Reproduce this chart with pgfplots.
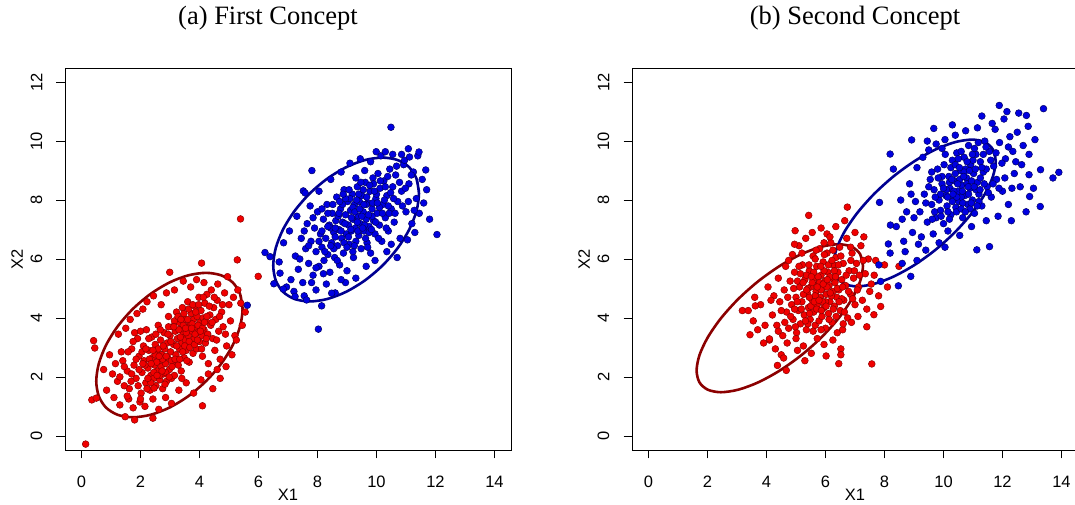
\documentclass[border=0pt]{standalone}
\usepackage{pgfplots}
\pgfplotsset{compat=1.18}
\usepackage{fontspec}
\setmainfont{Liberation Serif}
\newfontfamily\helv{Liberation Sans}
\definecolor{ptred}{RGB}{240,0,0}
\definecolor{ptredb}{RGB}{140,0,0}
\definecolor{ptblue}{RGB}{0,0,225}
\definecolor{ptblueb}{RGB}{0,0,100}
\definecolor{elred}{RGB}{139,0,0}
\definecolor{elblue}{RGB}{0,0,145}
\pgfplotsset{
  rpanel/.style={
    scale only axis, width=446pt, height=382pt, anchor=south west,
    xmin=-0.56, xmax=14.56, ymin=-0.48, ymax=12.48,
    xtick={0,2,...,14}, ytick={0,2,...,12},
    tick align=outside, major tick length=8.5pt,
    tick style={black, line width=0.6pt},
    axis line style={line width=0.8pt},
    xtick pos=left, ytick pos=left,
    /pgf/number format/assume math mode=true,
    tick label style={font=\helv\fontsize{16.5}{19}\selectfont},
    xticklabel style={anchor=center, yshift=-23pt},
    yticklabel style={rotate=90, anchor=center, yshift=20pt},
    label style={font=\helv\fontsize{16.5}{19}\selectfont},
    xlabel={X1}, ylabel={X2},
    xlabel style={at={(axis description cs:0.5,0)}, anchor=center, yshift=-45pt},
    ylabel style={at={(axis description cs:0,0.5)}, anchor=center, yshift=48pt},
  },
  redpts/.style={only marks, mark=*, mark size=3.4pt, mark options={fill=ptred, draw=ptredb, line width=0.5pt}},
  bluepts/.style={only marks, mark=*, mark size=3.4pt, mark options={fill=ptblue, draw=ptblueb, line width=0.5pt}},
  redell/.style={elred, line width=2.6pt, smooth, no marks},
  blueell/.style={elblue, line width=2.6pt, smooth, no marks},
}
\begin{document}
\begin{tikzpicture}
% ---------------- (a) First Concept ----------------
\begin{axis}[rpanel, at={(65pt,55pt)}]
\addplot[redpts] coordinates {
(1.05,2.10) (1.22,1.85) (1.40,2.55) (1.55,2.20) (1.62,1.60) (1.70,2.95) (1.78,2.40) (1.85,1.95) (1.90,3.30) (1.95,2.70)
(2.02,1.45) (2.05,2.15) (2.10,3.05) (2.12,2.55) (2.18,1.80) (2.20,3.60) (2.25,2.30) (2.28,2.90) (2.32,1.55) (2.35,2.05)
(2.38,3.35) (2.40,2.65) (2.45,1.95) (2.48,2.40) (2.50,3.10) (2.52,1.70) (2.55,2.85) (2.58,2.20) (2.60,3.75) (2.62,2.55)
(2.65,1.90) (2.68,3.25) (2.70,2.35) (2.72,2.75) (2.75,1.60) (2.78,2.10) (2.80,3.50) (2.82,2.95) (2.85,2.45) (2.88,1.85)
(2.90,3.15) (2.92,2.65) (2.95,4.05) (2.98,2.25) (3.00,3.40) (3.02,2.85) (3.05,1.95) (3.08,3.70) (3.10,2.50) (3.12,3.10)
(3.15,2.05) (3.18,3.55) (3.20,2.75) (3.22,4.20) (3.25,3.30) (3.28,2.40) (3.30,3.85) (3.32,2.95) (3.35,3.60) (3.38,2.20)
(3.40,3.15) (3.42,4.35) (3.45,3.45) (3.48,2.65) (3.50,3.95) (3.52,3.25) (3.55,2.90) (3.58,3.70) (3.60,4.55) (3.62,3.40)
(3.65,2.50) (3.68,3.85) (3.70,3.10) (3.72,4.15) (3.75,3.55) (3.78,2.80) (3.80,3.95) (3.82,3.30) (3.85,4.40) (3.88,3.70)
(3.90,2.95) (3.92,4.05) (3.95,3.50) (3.98,4.70) (4.00,3.20) (4.02,3.85) (4.05,4.25) (4.08,3.40) (4.10,2.70) (4.12,4.00)
(4.15,3.60) (4.18,4.50) (4.20,3.15) (4.22,3.90) (4.25,4.80) (4.28,3.45) (4.30,2.45) (4.35,4.10) (4.38,3.75) (4.40,4.95)
(4.45,3.30) (4.48,4.35) (4.52,2.90) (4.55,3.95) (4.60,4.60) (4.65,3.55) (4.70,2.60) (4.75,4.20) (4.80,3.70) (4.85,4.85)
(4.92,3.05) (5.00,4.45) (5.05,3.90) (5.15,4.70) (5.20,3.40) (5.30,4.95) (5.40,4.50)
(0.75,2.25) (0.85,1.55) (0.95,2.75) (1.10,1.30) (1.15,2.45) (1.25,3.45) (1.30,1.05) (1.35,2.85) (1.45,1.70) (1.50,3.65)
(1.60,1.25) (1.65,3.95) (1.75,0.95) (1.80,3.50) (1.88,4.15) (1.98,1.15) (2.08,4.30) (2.15,1.00) (2.22,4.55) (2.42,1.25)
(2.44,4.75) (2.62,0.90) (2.70,4.45) (2.85,1.30) (2.88,4.85) (3.05,1.10) (3.15,4.95) (3.30,1.55) (3.45,5.25) (3.55,1.80)
(3.70,5.05) (3.80,1.45) (3.90,5.30) (4.05,1.90) (4.15,5.20) (4.30,2.10) (4.45,1.60) (4.62,5.15) (4.70,1.95) (4.90,2.35)
(5.10,2.75) (5.25,3.25) (5.45,3.75) (5.55,4.20) (4.95,5.40)
(0.14,-0.28) (0.41,3.23) (0.45,2.98) (0.35,1.22) (0.50,1.28) (1.48,0.65) (1.80,0.54) (2.42,0.60) (4.10,1.02) (2.99,5.55)
(4.07,5.86) (5.28,5.97) (5.99,5.41) (5.39,7.36)
(2.30,2.60) (2.45,2.15) (2.55,2.50) (2.65,2.05) (2.75,2.60) (2.35,1.80) (2.15,2.40) (2.05,2.85) (1.95,2.25) (2.60,2.95)
(3.35,3.35) (3.45,3.75) (3.55,3.50) (3.65,3.20) (3.75,3.80) (3.85,3.45) (3.60,3.95) (3.30,3.60) (3.95,3.75) (3.50,3.05)
(1.85,2.60) (1.70,2.10) (2.95,3.70) (3.15,3.90) (4.10,3.65) (4.25,4.05) (3.05,2.55) (2.85,2.15) (2.50,2.75) (2.25,1.95)
(1.30,2.00) (1.45,2.35) (1.58,2.85) (1.68,1.85) (1.75,3.20) (1.92,1.70) (2.00,3.55) (2.08,2.45) (2.18,2.95) (2.22,1.60)
(2.28,3.30) (2.36,2.45) (2.42,2.90) (2.46,1.62) (2.52,3.45) (2.56,2.05) (2.63,2.70) (2.67,3.60) (2.73,2.20) (2.77,3.05)
(2.83,1.75) (2.87,2.70) (2.93,3.45) (2.97,2.00) (3.03,3.20) (3.07,2.35) (3.13,3.70) (3.17,2.60) (3.23,3.05) (3.27,4.05)
(3.33,2.60) (3.37,3.95) (3.43,2.85) (3.47,4.15) (3.53,3.65) (3.57,2.55) (3.63,4.30) (3.67,3.00) (3.73,3.65) (3.77,4.45)
(3.83,3.10) (3.87,4.20) (3.93,3.25) (3.97,4.45) (4.03,3.55) (4.07,2.95) (4.13,4.70) (4.17,3.85) (4.23,3.30) (4.33,4.40)
(4.43,3.85) (4.50,4.70) (4.58,3.25) (4.68,4.05) (4.78,4.45) (4.88,3.45) (1.55,1.35) (2.00,1.25) (3.40,1.95) (4.60,2.25)
};
\addplot[bluepts] coordinates {
(7.10,5.30) (7.25,6.10) (7.35,5.65) (7.45,6.70) (7.50,5.20) (7.60,6.35) (7.65,7.20) (7.70,5.85) (7.78,6.60) (7.85,5.45)
(7.90,7.05) (7.95,6.25) (8.00,7.60) (8.05,5.75) (8.10,6.85) (8.15,6.40) (8.20,7.35) (8.22,5.95) (8.28,6.70) (8.32,7.85)
(8.35,6.15) (8.40,7.15) (8.42,5.55) (8.48,6.55) (8.50,7.55) (8.55,6.90) (8.58,6.05) (8.62,7.30) (8.65,8.10) (8.68,6.45)
(8.72,7.00) (8.75,5.80) (8.78,7.70) (8.82,6.70) (8.85,7.25) (8.88,6.20) (8.90,8.35) (8.95,7.50) (8.98,6.85) (9.00,5.60)
(9.02,7.95) (9.05,7.15) (9.08,6.50) (9.12,7.65) (9.15,6.95) (9.18,8.20) (9.20,7.35) (9.22,6.05) (9.25,7.85) (9.28,7.05)
(9.30,6.60) (9.35,8.45) (9.38,7.45) (9.40,6.80) (9.42,7.95) (9.45,7.20) (9.48,6.35) (9.50,8.15) (9.55,7.60) (9.58,6.95)
(9.62,8.60) (9.65,7.35) (9.68,6.55) (9.70,7.90) (9.75,7.10) (9.78,8.30) (9.80,6.20) (9.85,7.70) (9.88,8.75) (9.90,7.30)
(9.95,6.85) (9.98,8.05) (10.02,7.55) (10.05,8.90) (10.10,7.15) (10.12,8.40) (10.18,6.60) (10.22,7.85) (10.25,8.65) (10.30,7.40)
(10.35,8.15) (10.40,6.95) (10.45,9.05) (10.50,7.70) (10.55,8.45) (10.60,7.25) (10.65,8.85) (10.72,7.95) (10.80,6.70) (10.85,8.30)
(10.92,9.20) (11.00,7.60) (11.10,8.55) (11.20,7.20) (11.25,8.95) (11.35,8.05) (11.45,7.55) (11.55,8.70)
(6.70,5.90) (6.85,6.55) (6.95,5.05) (7.05,6.95) (7.20,4.90) (7.30,7.45) (7.55,4.75) (7.75,7.80) (7.95,4.95) (8.05,8.30)
(8.30,5.15) (8.45,8.70) (8.60,4.85) (8.80,8.95) (8.95,5.20) (9.10,9.25) (9.30,5.35) (9.45,9.40) (9.65,5.75) (9.80,9.30)
(9.95,5.95) (10.15,9.50) (10.35,6.25) (10.55,9.55) (10.70,6.05) (10.95,9.35) (11.05,6.65) (11.30,6.90) (11.40,9.50) (11.60,7.90)
(11.70,8.35) (11.80,7.35)
(10.49,10.47) (9.99,9.64) (10.30,9.64) (11.08,9.74) (11.44,9.63) (11.12,9.46) (11.67,9.02) (12.05,6.83) (7.81,9.00) (7.52,8.31)
(7.58,8.24) (6.22,6.22) (6.39,6.08) (6.52,5.16) (6.73,5.52) (6.84,4.98) (7.24,4.73) (8.14,4.41) (8.03,3.62) (7.63,4.61)
(8.48,4.84) (5.62,4.43)
(8.70,7.45) (8.85,7.85) (9.05,6.75) (9.20,7.75) (9.35,7.25) (9.50,7.45) (9.65,7.85) (9.75,6.90) (8.90,6.55) (9.10,8.05)
(9.40,8.20) (8.60,6.75) (8.45,7.05) (9.25,6.45) (9.60,7.15) (9.85,7.45) (10.00,8.20) (8.75,7.95) (9.15,7.40) (9.55,8.35)
(8.35,7.55) (10.10,7.75) (8.55,6.35) (9.90,8.55) (10.30,8.45) (8.15,6.95) (9.70,6.40) (10.40,7.80) (8.95,8.05) (9.30,8.75)
(7.40,6.00) (7.55,6.95) (7.70,6.45) (7.85,7.40) (7.95,5.70) (8.05,6.60) (8.15,7.70) (8.25,6.25) (8.35,7.10) (8.45,6.45)
(8.52,7.85) (8.60,7.05) (8.67,5.95) (8.73,7.55) (8.80,6.95) (8.87,8.20) (8.93,7.20) (9.00,6.40) (9.07,8.35) (9.13,7.00)
(9.20,6.25) (9.27,7.60) (9.33,8.00) (9.37,6.95) (9.43,7.70) (9.47,8.60) (9.53,7.05) (9.57,7.85) (9.63,6.70) (9.67,8.10)
(9.73,7.50) (9.77,8.50) (9.83,7.00) (9.87,7.90) (9.93,8.30) (9.97,7.25) (10.03,7.90) (10.07,6.70) (10.13,8.65) (10.20,7.55)
(10.27,8.00) (10.33,7.05) (10.38,8.80) (10.43,7.55) (10.48,8.25) (10.58,8.05) (10.63,7.55) (10.68,9.15) (10.78,8.60) (10.88,7.80)
(10.98,8.40) (11.08,7.95) (11.18,8.85) (11.28,7.65) (8.20,5.50) (8.80,5.30) (7.80,5.20) (10.50,6.50) (9.60,9.00) (10.85,9.55)
};
\addplot[redell] coordinates {
(5.460,4.305) (5.375,4.812) (5.128,5.202) (4.734,5.446) (4.220,5.530) (3.622,5.446) (2.980,5.202) (2.338,4.812)
(1.740,4.305) (1.226,3.714) (0.832,3.080) (0.585,2.446) (0.500,1.855) (0.585,1.348) (0.832,0.958) (1.226,0.714)
(1.740,0.630) (2.338,0.714) (2.980,0.958) (3.622,1.348) (4.220,1.855) (4.734,2.446) (5.128,3.080) (5.375,3.714)
(5.460,4.305) (5.375,4.812)
};
\addplot[blueell] coordinates {
(11.440,8.220) (11.356,8.725) (11.109,9.113) (10.717,9.357) (10.205,9.440) (9.609,9.357) (8.970,9.113) (8.331,8.725)
(7.735,8.220) (7.223,7.631) (6.831,7.000) (6.584,6.369) (6.500,5.780) (6.584,5.275) (6.831,4.887) (7.223,4.643)
(7.735,4.560) (8.331,4.643) (8.970,4.887) (9.609,5.275) (10.205,5.780) (10.717,6.369) (11.109,7.000) (11.356,7.631)
(11.440,8.220) (11.356,8.725)
};
\end{axis}
% ---------------- (b) Second Concept ----------------
\begin{axis}[rpanel, at={(632pt,55pt)}]
\addplot[redpts] coordinates {
(4.20,4.10) (4.35,3.75) (4.45,4.55) (4.55,3.40) (4.60,4.95) (4.68,4.20) (4.75,3.65) (4.80,5.25) (4.85,4.45) (4.90,3.95)
(4.95,5.55) (5.00,4.70) (5.02,3.50) (5.08,4.25) (5.12,5.05) (5.15,3.80) (5.20,4.55) (5.22,5.80) (5.28,4.10) (5.30,5.30)
(5.35,3.60) (5.38,4.85) (5.42,4.35) (5.45,5.60) (5.48,3.95) (5.50,5.05) (5.55,4.60) (5.58,6.10) (5.60,4.20) (5.62,5.35)
(5.65,3.75) (5.68,4.90) (5.70,5.75) (5.72,4.45) (5.75,5.15) (5.78,3.90) (5.80,6.35) (5.82,4.70) (5.85,5.45) (5.88,4.05)
(5.90,5.00) (5.92,5.90) (5.95,4.35) (5.98,5.25) (6.00,3.65) (6.02,4.80) (6.05,6.20) (6.08,5.55) (6.10,4.15) (6.12,5.10)
(6.15,4.55) (6.18,6.55) (6.20,5.35) (6.22,3.85) (6.25,4.90) (6.28,5.80) (6.30,4.40) (6.32,5.20) (6.35,6.05) (6.38,4.70)
(6.40,3.50) (6.42,5.55) (6.45,4.95) (6.48,6.40) (6.50,4.25) (6.55,5.30) (6.60,5.85) (6.62,4.60) (6.68,5.10) (6.72,6.70)
(6.75,4.00) (6.80,5.60) (6.85,4.80) (6.90,6.20) (6.95,5.35) (7.00,4.45) (7.05,5.85) (7.12,5.05) (7.20,6.45) (7.25,4.60)
(7.35,5.50) (7.45,6.00) (7.55,5.15)
(3.80,4.45) (3.95,3.75) (4.05,5.05) (4.10,3.25) (4.25,4.75) (4.30,2.95) (4.40,5.35) (4.50,2.75) (4.65,5.75) (4.70,3.15)
(4.88,6.15) (5.05,2.90) (5.10,6.45) (5.25,3.05) (5.33,6.70) (5.52,2.80) (5.55,6.90) (5.72,3.30) (5.85,7.05) (5.95,3.10)
(6.05,6.85) (6.25,3.25) (6.35,7.10) (6.58,3.60) (6.65,7.30) (6.88,3.85) (7.00,6.90) (7.10,4.05) (7.30,6.75) (7.40,3.70)
(7.50,4.90) (7.65,5.45) (7.80,4.75) (8.00,5.80) (8.10,5.05) (3.90,3.15) (3.55,3.90)
(5.43,7.48) (6.74,7.76) (4.97,6.96) (3.44,3.43) (3.18,4.25) (3.38,4.25) (3.62,4.41) (4.10,3.29) (4.58,2.64) (4.37,2.39)
(4.67,2.22) (6.02,2.71) (6.52,2.95) (6.52,2.75) (7.57,2.44) (8.49,5.75) (7.64,4.11) (7.87,4.39)
(5.40,5.00) (5.55,5.20) (5.65,4.75) (5.75,5.40) (5.85,4.95) (5.95,5.60) (6.05,5.05) (6.15,5.40) (5.45,4.70) (5.60,5.55)
(5.80,5.20) (6.00,4.55) (6.10,5.80) (5.35,5.45) (5.70,4.30) (5.90,4.55) (6.20,4.75) (6.30,5.60) (5.50,4.40) (5.25,4.80)
(6.40,5.00) (5.65,6.00) (5.85,3.60) (5.15,5.50) (6.55,4.65) (5.05,5.25) (6.25,6.30) (5.40,3.80) (5.95,6.55) (4.95,4.30)
(4.50,4.25) (4.62,3.85) (4.72,4.70) (4.82,4.05) (4.92,5.00) (4.98,3.70) (5.04,4.55) (5.10,5.75) (5.18,4.30) (5.24,5.20)
(5.32,3.90) (5.36,4.95) (5.44,5.80) (5.46,4.15) (5.52,5.40) (5.58,3.55) (5.62,4.55) (5.68,6.30) (5.72,5.05) (5.78,4.60)
(5.84,5.75) (5.86,4.25) (5.92,5.15) (5.96,6.15) (6.02,4.40) (6.06,5.30) (6.12,3.95) (6.16,4.85) (6.22,5.95) (6.26,4.30)
(6.34,5.40) (6.36,4.05) (6.44,5.80) (6.46,4.55) (6.52,6.10) (6.58,5.05) (6.64,4.20) (6.70,5.45) (6.78,4.90) (6.86,5.95)
(6.92,4.65) (6.98,5.60) (7.08,4.95) (7.15,5.45) (7.28,5.95) (4.40,3.55) (4.75,5.95) (5.20,6.20) (5.00,3.30) (6.60,3.80)
(7.40,4.30) (3.70,3.60) (4.15,4.60) (6.15,6.75) (5.30,2.55) (6.85,6.40) (7.70,5.95) (3.60,4.70) (4.95,6.50) (6.45,2.45)
};
\addplot[bluepts] coordinates {
(9.20,7.60) (9.35,8.20) (9.45,7.25) (9.55,8.70) (9.60,7.85) (9.68,8.35) (9.75,7.40) (9.80,9.05) (9.85,8.00) (9.90,7.65)
(9.95,8.55) (10.00,7.20) (10.02,9.20) (10.08,8.15) (10.12,7.80) (10.18,8.80) (10.22,8.40) (10.25,7.50) (10.30,9.35) (10.35,8.05)
(10.38,8.65) (10.42,7.75) (10.45,9.60) (10.50,8.30) (10.52,7.95) (10.58,9.00) (10.62,8.50) (10.65,7.40) (10.70,9.45) (10.72,8.15)
(10.78,8.75) (10.82,7.85) (10.85,9.85) (10.90,8.40) (10.92,9.20) (10.98,8.00) (11.02,8.90) (11.05,7.55) (11.10,9.55) (11.15,8.60)
(11.20,8.20) (11.25,9.30) (11.30,7.80) (11.35,8.95) (11.40,10.00) (11.48,8.45) (11.55,9.65) (11.62,8.10) (11.70,9.15) (11.80,8.70)
(11.90,9.95) (12.00,8.30) (12.10,9.40) (12.25,10.15) (12.40,8.90)
(8.40,7.10) (8.55,8.00) (8.65,6.60) (8.75,7.60) (8.85,8.55) (8.95,6.90) (9.05,7.95) (9.10,9.10) (9.25,6.75) (9.30,9.45)
(9.40,6.30) (9.50,9.70) (9.65,6.85) (9.75,9.90) (9.85,6.55) (10.05,10.05) (10.15,6.95) (10.40,10.20) (10.55,6.80) (10.75,10.35)
(10.95,7.10) (11.15,10.45) (11.45,7.30) (11.65,10.60) (11.85,7.45) (12.05,10.75) (12.20,7.85) (12.35,9.65) (12.50,10.30) (12.60,8.45)
(12.70,9.85) (12.80,7.60) (12.55,10.95) (12.15,11.00) (8.60,5.85) (8.70,6.25)
(11.89,11.21) (13.39,11.10) (12.81,10.87) (12.87,10.50) (9.67,10.43) (8.92,10.04) (8.19,9.56) (8.30,9.05) (13.91,8.94) (13.71,8.75)
(13.29,9.03) (13.28,7.78) (12.92,8.12) (12.90,8.86) (11.56,6.42) (11.13,6.31) (8.13,6.51) (8.19,6.20) (7.81,5.80) (8.47,5.09)
(8.89,5.41) (7.87,5.24) (7.83,7.92)
(10.20,8.60) (10.40,8.90) (10.60,8.10) (10.80,8.55) (10.55,8.70) (10.35,8.30) (10.75,9.05) (10.95,8.65) (10.10,8.35) (10.65,7.90)
(11.00,9.35) (10.30,7.95) (10.85,8.20) (11.10,8.35) (10.45,8.10) (9.95,8.80) (10.70,8.95) (11.25,8.75) (10.25,9.10) (9.90,8.20)
(10.15,7.60) (11.35,9.55) (10.50,9.40) (11.05,9.75) (9.70,7.60) (10.90,7.70) (10.60,9.65) (11.45,9.05) (9.60,8.95) (11.20,7.95)
(9.40,7.90) (9.50,8.45) (9.62,7.35) (9.72,8.10) (9.82,8.75) (9.92,7.45) (10.00,8.40) (10.06,9.55) (10.14,8.10) (10.20,7.35)
(10.28,8.70) (10.32,8.20) (10.40,9.20) (10.44,7.60) (10.48,8.55) (10.54,9.10) (10.60,7.70) (10.64,8.30) (10.68,8.80) (10.74,7.60)
(10.80,9.30) (10.84,8.45) (10.88,9.00) (10.94,7.90) (10.98,9.55) (11.04,8.45) (11.08,9.05) (11.14,7.80) (11.18,9.95) (11.24,8.35)
(11.30,9.10) (11.38,8.55) (11.44,9.80) (11.52,8.25) (11.60,9.35) (11.68,8.55) (11.78,9.60) (11.88,8.40) (11.98,9.25) (12.08,8.75)
(12.20,9.80) (12.32,8.40) (12.45,9.30) (9.00,7.40) (9.15,6.50) (8.90,8.20) (9.45,10.00) (12.65,9.20) (12.90,9.55) (13.10,10.05)
(11.75,10.40) (8.60,7.35) (8.20,7.15) (9.10,5.95) (10.05,6.40) (12.30,7.30) (13.05,8.40) (11.30,10.85) (9.95,9.75) (10.30,10.55)
};
\addplot[redell] coordinates {
(7.270,5.765) (7.174,6.164) (6.892,6.414) (6.444,6.500) (5.860,6.414) (5.180,6.164) (4.450,5.765) (3.720,5.245)
(3.040,4.640) (2.456,3.990) (2.008,3.340) (1.726,2.735) (1.630,2.215) (1.726,1.816) (2.008,1.566) (2.456,1.480)
(3.040,1.566) (3.720,1.816) (4.450,2.215) (5.180,2.735) (5.860,3.340) (6.444,3.990) (6.892,4.640) (7.174,5.245)
(7.270,5.765) (7.174,6.164)
};
\addplot[blueell] coordinates {
(11.770,9.321) (11.676,9.716) (11.402,9.965) (10.965,10.050) (10.395,9.965) (9.732,9.716) (9.020,9.321) (8.308,8.805)
(7.645,8.204) (7.075,7.560) (6.638,6.916) (6.364,6.315) (6.270,5.799) (6.364,5.404) (6.638,5.155) (7.075,5.070)
(7.645,5.155) (8.308,5.404) (9.020,5.799) (9.732,6.315) (10.395,6.916) (10.965,7.560) (11.402,8.204) (11.676,8.805)
(11.770,9.321) (11.676,9.716)
};
\end{axis}
\node[font=\fontsize{26.5}{30}\selectfont, anchor=center] at (268pt,487pt) {(a) First Concept};
\node[font=\fontsize{26.5}{30}\selectfont, anchor=center] at (855pt,487pt) {(b) Second Concept};
\pgfresetboundingbox
\useasboundingbox (0,0) rectangle (1075pt,505pt);
\end{tikzpicture}
\end{document}
